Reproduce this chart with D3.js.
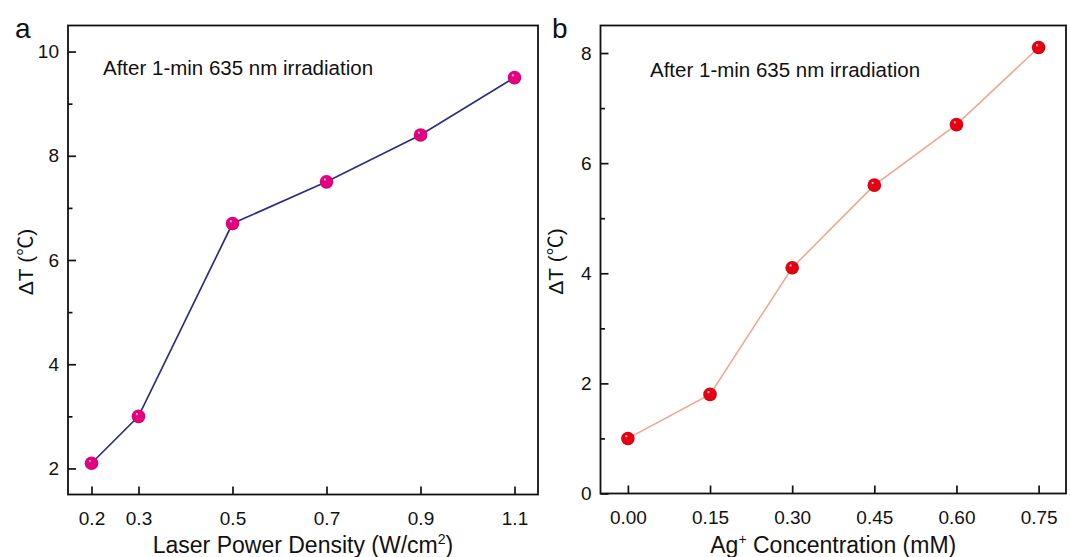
<!DOCTYPE html>
<html><head><meta charset="utf-8">
<script src="https://cdn.jsdelivr.net/npm/d3@7"></script>
<style>
html,body{margin:0;padding:0;background:#fff;}
svg{display:block;font-family:"Liberation Sans",Arial,sans-serif;}
</style></head>
<body><svg id="c" width="1070" height="557"></svg>
<script>
// Panel a data
const powerDensity = [0.2, 0.3, 0.5, 0.7, 0.9, 1.1];
const deltaTa = [2.1, 3.0, 6.7, 7.5, 8.4, 9.5];
const xTicksA = [0.2, 0.3, 0.5, 0.7, 0.9, 1.1];
const yTicksA = [2, 4, 6, 8, 10];
const yMinorA = [3, 5, 7, 9];
// Panel b data
const agConc = [0.00, 0.15, 0.30, 0.45, 0.60, 0.75];
const deltaTb = [1.0, 1.8, 4.1, 5.6, 6.7, 8.1];
const xTicksB = [0.00, 0.15, 0.30, 0.45, 0.60, 0.75];
const yTicksB = [0, 2, 4, 6, 8];
const yMinorB = [1, 3, 5, 7];

const svg = d3.select("#c");
const defs = svg.append("defs");
function grad(id, base, dark) {
  const g = defs.append("radialGradient").attr("id", id)
    .attr("cx", "50%").attr("cy", "50%").attr("r", "55%")
    .attr("fx", "36%").attr("fy", "30%");
  g.append("stop").attr("offset", "0%").attr("stop-color", "#ffffff");
  g.append("stop").attr("offset", "22%").attr("stop-color", base);
  g.append("stop").attr("offset", "80%").attr("stop-color", base);
  g.append("stop").attr("offset", "100%").attr("stop-color", dark);
}
grad("ga", "#e4007f", "#b0005e");
grad("gb", "#e60012", "#b0000c");

function panel(o) {
  const x = d3.scaleLinear().domain(o.xDom).range([o.left, o.right]);
  const y = d3.scaleLinear().domain(o.yDom).range([o.bottom, o.top]);
  const g = svg.append("g");
  g.append("g").attr("transform", `translate(0,${o.bottom})`)
    .call(d3.axisBottom(x).tickValues(o.xTicks).tickSizeInner(-8).tickSizeOuter(0).tickPadding(17).tickFormat(o.xFmt));
  g.append("g").attr("transform", `translate(${o.left},0)`)
    .call(d3.axisLeft(y).tickValues(o.yTicks).tickSizeInner(-8).tickSizeOuter(0).tickPadding(9).tickFormat(d3.format("d")));
  g.append("g").attr("transform", `translate(${o.left},0)`)
    .call(d3.axisLeft(y).tickValues(o.yMinor).tickSizeInner(-4.5).tickSizeOuter(0).tickFormat(""));
  g.selectAll(".domain").remove();
  g.selectAll(".tick line").attr("stroke", "#111").attr("stroke-width", 1.7);
  g.selectAll(".tick text").attr("font-size", 19).attr("fill", "#111")
    .attr("font-family", '"Liberation Sans",Arial,sans-serif');
  g.append("rect").attr("x", o.left).attr("y", o.top)
    .attr("width", o.right - o.left).attr("height", o.bottom - o.top)
    .attr("fill", "none").attr("stroke", "#111").attr("stroke-width", 1.8);
  const pts = o.xs.map((v, i) => [v, o.ys[i]]);
  g.append("path").datum(pts)
    .attr("d", d3.line().x(d => x(d[0])).y(d => y(d[1])))
    .attr("fill", "none").attr("stroke", o.lineColor).attr("stroke-width", o.lineWidth);
  g.selectAll("circle.m").data(pts).enter().append("circle")
    .attr("cx", d => x(d[0])).attr("cy", d => y(d[1])).attr("r", 6.8)
    .attr("fill", `url(#${o.grad})`);
  g.append("text").attr("x", o.noteX).attr("y", o.noteY).attr("font-size", 20.5)
    .attr("fill", "#111").text("After 1-min 635 nm irradiation");
  g.append("text").attr("x", o.letterX).attr("y", 38).attr("font-size", 28)
    .attr("fill", "#111").text(o.letter);
  const yt = g.append("text").attr("transform", `translate(${o.yTitleX},${(o.top + o.bottom) / 2 + 2}) rotate(-90)`)
    .attr("text-anchor", "middle").attr("font-size", 21).attr("fill", "#111");
  yt.append("tspan").text("ΔT (");
  yt.append("tspan").attr("font-family", '"Noto Sans CJK SC","DejaVu Sans",sans-serif').attr("font-size", 20).text("℃");
  yt.append("tspan").text(")");
  const xt = g.append("text").attr("x", (o.left + o.right) / 2).attr("y", 553)
    .attr("text-anchor", "middle").attr("font-size", 23).attr("fill", "#111");
  o.xTitle(xt);
}

panel({
  xDom: [0.15, 1.15], yDom: [1.5, 10.5], left: 68, right: 538, top: 25.5, bottom: 494.5,
  xTicks: xTicksA, yTicks: yTicksA, yMinor: yMinorA, xFmt: d3.format(".1f"),
  xs: powerDensity, ys: deltaTa, lineColor: "#2b2e83", lineWidth: 1.7, grad: "ga",
  noteX: 103, noteY: 75, letter: "a", letterX: 15, yTitleX: 33,
  xTitle: t => {
    t.append("tspan").text("Laser Power Density (W/cm");
    t.append("tspan").attr("font-size", 14).attr("dy", -9).text("2");
    t.append("tspan").attr("dy", 9).text(")");
  }
});
panel({
  xDom: [-0.05, 0.8], yDom: [0, 8.5], left: 600.5, right: 1066, top: 25.5, bottom: 493.5,
  xTicks: xTicksB, yTicks: yTicksB, yMinor: yMinorB, xFmt: d3.format(".2f"),
  xs: agConc, ys: deltaTb, lineColor: "#f2a58e", lineWidth: 1.5, grad: "gb",
  noteX: 650, noteY: 77, letter: "b", letterX: 552, yTitleX: 563,
  xTitle: t => {
    t.append("tspan").text("Ag");
    t.append("tspan").attr("font-size", 14).attr("dy", -9).text("+");
    t.append("tspan").attr("dy", 9).text(" Concentration (mM)");
  }
});
</script></body></html>
